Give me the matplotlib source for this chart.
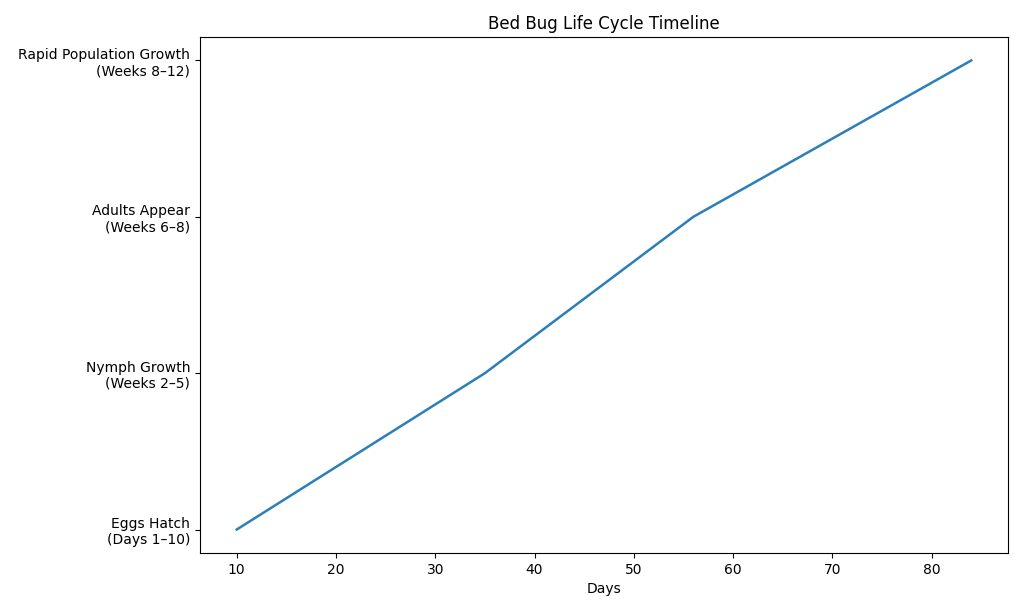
import matplotlib
matplotlib.use("Agg")
import matplotlib.pyplot as plt

days = [10, 35, 56, 84]
stages = ["Eggs Hatch\n(Days 1–10)", "Nymph Growth\n(Weeks 2–5)",
          "Adults Appear\n(Weeks 6–8)", "Rapid Population Growth\n(Weeks 8–12)"]

fig = plt.figure(figsize=(10.24, 6.14), dpi=100)
ax = fig.add_axes([200/1024, 1-553/614, 808/1024, 516/614])
ax.plot(days, range(len(stages)), color="#2c7fb8", linewidth=1.8)
ax.set_yticks(range(len(stages)))
ax.set_yticklabels(stages, ha="right")
ax.set_xlabel("Days")
ax.set_title("Bed Bug Life Cycle Timeline")
fig.savefig("out.png", dpi=100)
